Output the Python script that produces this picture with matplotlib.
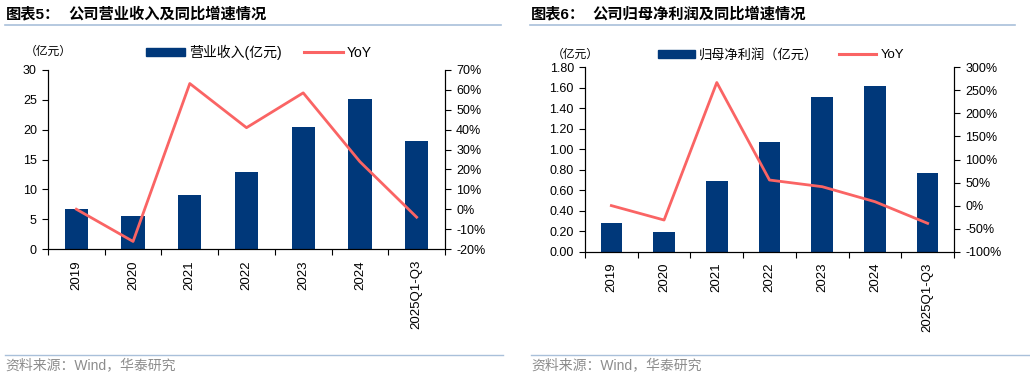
import numpy as np
import matplotlib
matplotlib.use('Agg')
import matplotlib.pyplot as plt
from matplotlib.ticker import FuncFormatter, MultipleLocator, FixedLocator
from matplotlib.lines import Line2D
from matplotlib.patches import Patch

plt.rcParams['font.family'] = ['Liberation Sans', 'Noto Sans CJK SC', 'DejaVu Sans']
plt.rcParams['axes.unicode_minus'] = False

years = ['2019', '2020', '2021', '2022', '2023', '2024', '2025Q1-Q3']

revenue = [6.7, 5.6, 9.1, 12.9, 20.4, 25.1, 18.1]
revenue_yoy = [0.0, -16.2, 63.2, 41.0, 58.5, 23.9, -4.0]

profit = [0.277, 0.189, 0.69, 1.072, 1.508, 1.619, 0.765]
profit_yoy = [0.0, -31.3, 267.0, 55.5, 41.0, 8.5, -38.5]

BAR = '#00387A'
LINE = '#FA6464'
RULE = '#A9C0DA'
W, H = 1030, 378

fig = plt.figure(figsize=(W / 100, H / 100), dpi=100)


def fx(px):
    return px / W


def fy(py):
    return 1 - py / H


def panel(rect, bars, yoy, ylim, ystep, yfmt, rlim, rstep):
    ax = fig.add_axes(rect)
    x = np.arange(len(years))
    ax.bar(x, bars, width=0.41, color=BAR, zorder=2)
    ax.set_xlim(-0.5, len(years) - 0.5)
    ax.set_ylim(*ylim)
    ax.yaxis.set_major_locator(MultipleLocator(ystep))
    ax.yaxis.set_major_formatter(FuncFormatter(yfmt))
    ax.set_xticks(x)
    ax.set_xticklabels(years, rotation=90, fontsize=9.5)
    ax.xaxis.set_minor_locator(FixedLocator(np.arange(-0.5, len(years), 1.0)))
    ax.tick_params(axis='x', which='major', length=0, pad=8)
    ax.tick_params(axis='x', which='minor', length=4, width=0.8, direction='out')
    ax.tick_params(axis='y', length=4, width=0.8, labelsize=9, pad=4)
    ax.spines['top'].set_visible(False)
    for s in ('left', 'right', 'bottom'):
        ax.spines[s].set_linewidth(0.8)

    ax2 = ax.twinx()
    ax2.plot(x, yoy, color=LINE, lw=2.0, zorder=3)
    ax2.set_ylim(*rlim)
    ax2.yaxis.set_major_locator(MultipleLocator(rstep))
    ax2.yaxis.set_major_formatter(FuncFormatter(lambda v, p: f'{v:.0f}%'))
    ax2.tick_params(axis='y', length=4, width=0.8, labelsize=9, pad=4)
    ax2.spines['top'].set_visible(False)
    for s in ('left', 'right', 'bottom'):
        ax2.spines[s].set_linewidth(0.8)
    return ax, ax2


# left panel
ax, ax2 = panel([fx(48), fy(249), fx(445 - 48), (249 - 70) / H],
                revenue, revenue_yoy, (0, 30), 5, lambda v, p: f'{v:.0f}',
                (-20, 70), 10)
# right panel
bx, bx2 = panel([fx(585), fy(251.7), fx(954 - 585), (251.7 - 67.3) / H],
                profit, profit_yoy, (0, 1.8), 0.2, lambda v, p: f'{v:.2f}',
                (-100, 300), 50)

# titles and rules
fig.text(fx(6), fy(14), '图表5：', fontsize=11, fontweight='bold', va='center')
fig.text(fx(68), fy(14), '公司营业收入及同比增速情况', fontsize=11, fontweight='bold', va='center')
fig.text(fx(531), fy(14), '图表6：', fontsize=11, fontweight='bold', va='center')
fig.text(fx(592), fy(14), '公司归母净利润及同比增速情况', fontsize=11, fontweight='bold', va='center')
for x0, x1 in ((5, 501), (530, 1015)):
    fig.add_artist(Line2D([fx(x0), fx(x1)], [fy(24.5), fy(24.5)], color=RULE, lw=1.2))
for x0, x1 in ((5, 503), (531, 1030)):
    fig.add_artist(Line2D([fx(x0), fx(x1)], [fy(355), fy(355)], color=RULE, lw=1.0))

# unit labels
fig.text(fx(25), fy(52), '（亿元）', fontsize=8.5, va='center')
fig.text(fx(552), fy(55), '（亿元）', fontsize=8.5, va='center')

# legends
for name, cx, cy, fs in (('营业收入(亿元)', 259, 52, 10),
                         ('归母净利润（亿元）', 781, 55, 9.5)):
    handles = [Patch(color=BAR), Line2D([], [], color=LINE, lw=2.2)]
    fig.legend(handles, [name, 'YoY'], loc='center', bbox_to_anchor=(fx(cx), fy(cy)),
               ncol=2, frameon=False, fontsize=fs, handlelength=2.8, handleheight=0.55,
               handletextpad=0.3, columnspacing=1.6, borderpad=0)

# source notes
fig.text(fx(5), fy(365), '资料来源：Wind，华泰研究', fontsize=10, color='#8C8C8C', va='center')
fig.text(fx(531), fy(365), '资料来源：Wind，华泰研究', fontsize=10, color='#8C8C8C', va='center')

fig.savefig('out.png', dpi=100)
